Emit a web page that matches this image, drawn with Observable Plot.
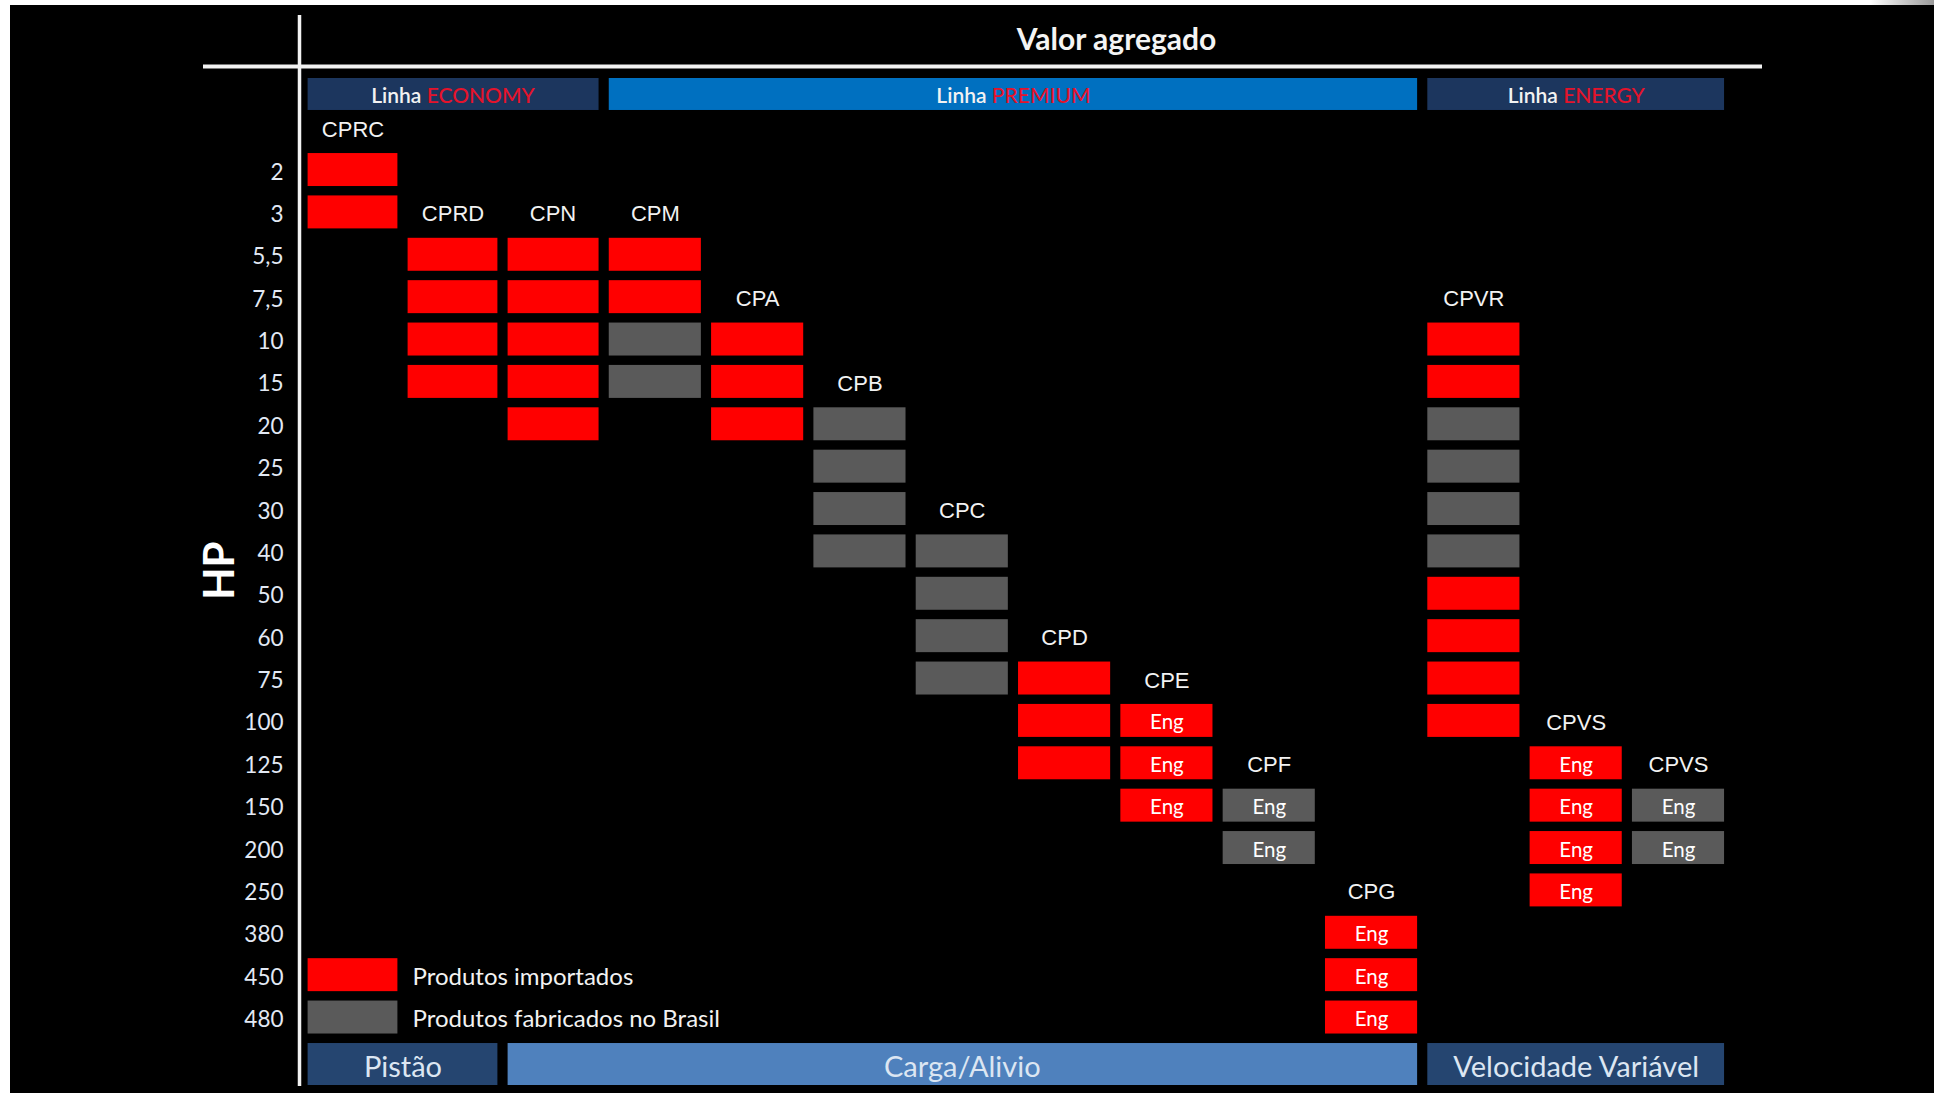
<!DOCTYPE html>
<html>
<head>
<meta charset="utf-8">
<script src="https://cdn.jsdelivr.net/npm/d3@7"></script>
<script src="https://cdn.jsdelivr.net/npm/@observablehq/plot@0.6"></script>
<style>
  html, body { margin: 0; padding: 0; }
  body { width: 1934px; height: 1093px; background: linear-gradient(to right, #fff 0, #fff 1870px, #9a9a9a 1934px); position: relative; overflow: hidden; }
  #wrap { position: absolute; left: 10px; top: 5px; width: 1924px; height: 1088px; background: #000; }
  #title { position: absolute; left: 289px; right: 0; top: 16px; height: 34px; line-height: 34px; text-align: center;
           font-family: Lato, "Open Sans", sans-serif; font-weight: bold; font-size: 30px; color: #f4f4f4; }
  #chart { position: absolute; left: 0; top: 0; }
</style>
</head>
<body>
<div id="wrap">
  <div id="chart"></div>
  <div id="title">Valor agregado</div>
</div>
<script>
// ---- Data ----
const hpRatings = ["2","3","5,5","7,5","10","15","20","25","30","40","50","60","75","100","125","150","200","250","380","450","480"];
const columnNames = ["CPRC","CPRD","CPN","CPM","CPA","CPB","CPC","CPD","CPE","CPF","CPG","CPVR","CPVS","CPVS"];

// I = importado (vermelho), N = fabricado no Brasil (cinza), E = "Eng"
const CPRC  = [["2","I"],["3","I"]];
const CPRD  = [["5,5","I"],["7,5","I"],["10","I"],["15","I"]];
const CPN   = [["5,5","I"],["7,5","I"],["10","I"],["15","I"],["20","I"]];
const CPM   = [["5,5","I"],["7,5","I"],["10","N"],["15","N"]];
const CPA   = [["10","I"],["15","I"],["20","I"]];
const CPB   = [["20","N"],["25","N"],["30","N"],["40","N"]];
const CPC   = [["40","N"],["50","N"],["60","N"],["75","N"]];
const CPD   = [["75","I"],["100","I"],["125","I"]];
const CPE   = [["100","IE"],["125","IE"],["150","IE"]];
const CPF   = [["150","NE"],["200","NE"]];
const CPG   = [["380","IE"],["450","IE"],["480","IE"]];
const CPVR  = [["10","I"],["15","I"],["20","N"],["25","N"],["30","N"],["40","N"],["50","I"],["60","I"],["75","I"],["100","I"]];
const CPVS  = [["125","IE"],["150","IE"],["200","IE"],["250","IE"]];
const CPVS2 = [["150","NE"],["200","NE"]];
const columnCells = [CPRC, CPRD, CPN, CPM, CPA, CPB, CPC, CPD, CPE, CPF, CPG, CPVR, CPVS, CPVS2];

const lineNames = ["ECONOMY","PREMIUM","ENERGY"];
const lineFirst = ["CPRC","CPM","CPVR"];
const lineLast  = [2, 10, 13];           // column index of last product in each line
const lineFills = ["#1c365e","#0070c0","#1c365e"];

const typeNames = ["Pistão","Carga/Alivio","Velocidade Variável"];
const typeFirst = [0, 2, 11];
const typeLast  = [1, 10, 13];
const typeFills = ["#254570","#4f81bd","#254570"];

const legendLabels = ["Produtos importados","Produtos fabricados no Brasil"];
const legendKeys = ["I","N"];

const RED = "#ff0000", GRAY = "#5a5a5a", LABEL_RED = "#e5132b";

// ---- Derived tables ----
const rowOf = hp => hpRatings.indexOf(hp);
const cells = columnCells.flatMap((list, c) => list.map(([hp, t]) => ({c, r: rowOf(hp), imp: t[0] === "I", eng: t.endsWith("E")})));
const labels = columnCells.map((list, c) => ({c, name: columnNames[c], r: rowOf(list[0][0]) - 1}));
const lineIdx = d3.range(lineNames.length);
const lineStart = lineFirst.map(n => columnNames.indexOf(n));
const typeIdx = d3.range(typeNames.length);
const legend = legendLabels.map((label, i) => ({label, imp: legendKeys[i] === "I", r: hpRatings.length - 2 + i, c: 0}));
const rows = d3.range(hpRatings.length);
const BAND_ROW = -2, TYPE_ROW = hpRatings.length;
const lastCol = columnNames.length - 1;

const fontCal = "Lato, 'Open Sans', sans-serif";
const fontLab = "'Liberation Sans', Arial, sans-serif";

const chart = Plot.plot({
  width: 1924,
  height: 1088,
  marginLeft: 292,
  marginRight: 205.4,
  marginTop: 58.6,
  marginBottom: 12.4,
  style: {background: "#000", color: "#fff", fontFamily: fontCal},
  // column widths as in the source sheet: the first three columns are a little narrower
  x: {type: "linear", domain: [0, 2, lastCol], range: [342.5, 542.5, 1668], axis: null},
  y: {domain: [BAND_ROW - 0.5, TYPE_ROW + 0.5], reverse: true, axis: null},
  marks: [
    // white separator lines
    Plot.ruleY([BAND_ROW - 0.5], {y: d => d, stroke: "#f2f2f2", strokeWidth: 4, dy: 2.4, insetLeft: -99, insetRight: -33.4}),
    Plot.ruleX([-0.5], {x: d => d, stroke: "#f2f2f2", strokeWidth: 3.5, dx: -3.5, insetTop: -48.6, insetBottom: -5.4}),
    // product line bands (top)
    Plot.rect(lineIdx, {x1: i => lineStart[i] - 0.5, x2: i => lineLast[i] + 0.5, y1: () => BAND_ROW - 0.5, y2: () => BAND_ROW + 0.5,
      fill: i => lineFills[i], insetLeft: 5.1, insetRight: 5.1, insetTop: 14.4, insetBottom: -4}),
    Plot.text(lineIdx, {x: i => (lineStart[i] + lineLast[i]) / 2, y: () => BAND_ROW, text: i => "Linha " + lineNames[i],
      fill: "#f2f2f2", fontSize: 21, fontWeight: 600, fontFamily: fontCal, dy: 11}),
    // compressor type bands (bottom)
    Plot.rect(typeIdx, {x1: i => typeFirst[i] - 0.5, x2: i => typeLast[i] + 0.5, y1: () => TYPE_ROW - 0.5, y2: () => TYPE_ROW + 0.5,
      fill: i => typeFills[i], insetLeft: 5.1, insetRight: 5.1, insetTop: 4.8, insetBottom: -4.4}),
    Plot.text(typeIdx, {x: i => (typeFirst[i] + typeLast[i]) / 2, y: () => TYPE_ROW, text: i => typeNames[i],
      fill: "#dce6f2", fontSize: 29, fontFamily: fontCal, dy: 7.5}),
    // HP tick labels
    Plot.text(rows, {y: r => r, text: r => hpRatings[r], frameAnchor: "left", textAnchor: "end", dx: -19, dy: 2.3,
      fill: "#e2e9f4", fontSize: 22.5, fontFamily: fontCal}),
    Plot.text(["HP"], {frameAnchor: "left", textAnchor: "middle", rotate: -90, dx: -82, dy: -2, fill: "#fff", fontSize: 42, fontWeight: "bold", fontFamily: fontCal}),
    // product cells
    Plot.rect(cells, {x1: d => d.c - 0.5, x2: d => d.c + 0.5, y1: d => d.r - 0.5, y2: d => d.r + 0.5,
      fill: d => d.imp ? RED : GRAY, insetLeft: 5.1, insetRight: 5.1, insetTop: 4.7, insetBottom: 4.7}),
    Plot.text(cells.filter(d => d.eng), {x: "c", y: "r", text: () => "Eng", fill: "#fff", fontSize: 20.5, fontFamily: fontCal, dy: 2}),
    // product names
    Plot.text(labels, {x: "c", y: "r", text: "name", fill: "#f2f2f2", fontSize: 22, fontFamily: fontLab, dy: 2}),
    // legend
    Plot.rect(legend, {x1: d => d.c - 0.5, x2: d => d.c + 0.5, y1: d => d.r - 0.5, y2: d => d.r + 0.5,
      fill: d => d.imp ? RED : GRAY, insetLeft: 5.1, insetRight: 5.1, insetTop: 4.7, insetBottom: 4.7}),
    Plot.text(legend, {x: d => d.c + 0.5, y: "r", text: "label", textAnchor: "start", dx: 9.5, dy: 2,
      fill: "#f2f2f2", fontSize: 24, fontFamily: fontCal})
  ]
});

// two-coloured line labels ("Linha" white + name red)
d3.select(chart).selectAll("text").filter(function() { return this.textContent.startsWith("Linha "); }).each(function() {
  const name = this.textContent.slice(6);
  const t = d3.select(this);
  t.text(null);
  t.append("tspan").attr("fill", "#f2f2f2").text("Linha");
  t.append("tspan").attr("fill", LABEL_RED).attr("font-weight", 500).text("\u00a0" + name);
});

document.getElementById("chart").appendChild(chart);
</script>
</body>
</html>
